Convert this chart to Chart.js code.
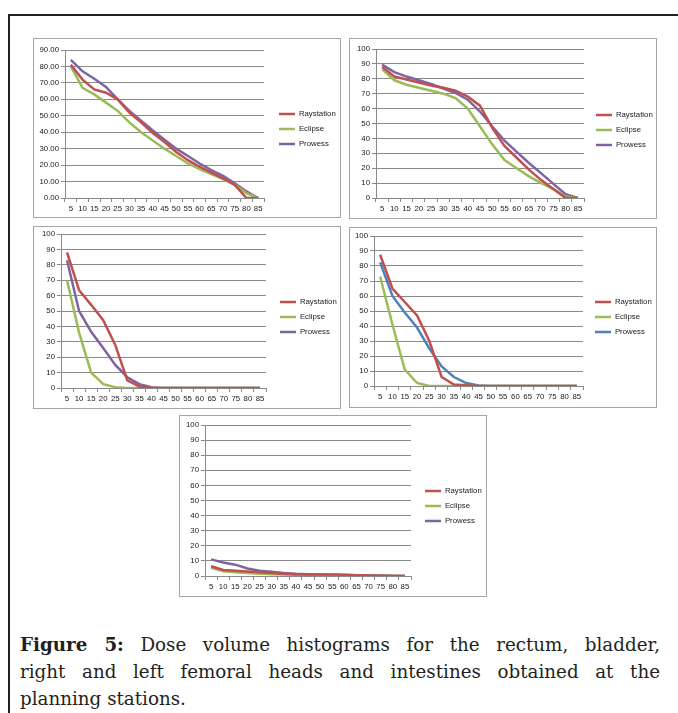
<!DOCTYPE html>
<html><head><meta charset="utf-8">
<script src="https://cdn.jsdelivr.net/npm/chart.js@4/dist/chart.umd.min.js"></script>
<style>
html,body{margin:0;padding:0;background:#fff;width:678px;height:713px;overflow:hidden;position:relative}
#frame{position:absolute;left:8px;top:14px;width:720px;height:740px;border:2px solid #231f20;box-sizing:border-box}
.panel{position:absolute;border:1px solid #a6a6a6;background:#fff;box-sizing:border-box}
.panel canvas{position:absolute;left:0;top:0}
.cap{position:absolute;left:20px;width:640px;font-family:"DejaVu Serif","Liberation Serif",serif;font-size:18.3px;color:#231f20;line-height:27px}
.j{text-align:justify;text-align-last:justify}
</style></head><body>
<div id="frame"></div>
<div id="panels"></div>
<div class="cap j" style="top:631px"><b>Figure 5:</b> Dose volume histograms for the rectum, bladder,</div>
<div class="cap j" style="top:658px">right and left femoral heads and intestines obtained at the</div>
<div class="cap" style="top:685px">planning stations.</div>
<script>
// ---------- data ----------
const doseLevels = ['5','10','15','20','25','30','35','40','45','50','55','60','65','70','75','80','85'];
const seriesNames = ['Raystation','Eclipse','Prowess'];

const rectumRaystation = [81,72,66,64,60,52,46,39.5,34,28,23,19,15.5,12,8,0,0];
const rectumEclipse    = [80,67,63,58,53,46,40,35,30,25.5,21,17.5,14.5,11.5,8,3,0];
const rectumProwess    = [84,77,72.5,67.5,60,53,47,41,35.5,30,25.5,21,17,13.5,9,4,0];

const bladderRaystation = [88,81.5,79.5,77.5,75.5,74,72,68,62,47,35,27,19,12,6,0,0];
const bladderEclipse    = [86.5,79,76,74,72,70,67,60,48,36,25.5,20,14.5,10,6,1,0];
const bladderProwess    = [89.5,84.5,81.5,79,76.5,73.5,70.5,66,58,48,38.5,31,23.5,16.5,9.5,2.5,0];

const rightFemurRaystation = [88,63.5,54,44,28,5,1,0,0,0,0,0,0,0,0,0,0];
const rightFemurEclipse    = [70,36,10,2.5,0.5,0,0,0,0,0,0,0,0,0,0,0,0];
const rightFemurProwess    = [83,50,36.5,26,15,7,2.5,0.5,0,0,0,0,0,0,0,0,0];

const leftFemurRaystation = [87.5,65,56,47,30,6,1,0.5,0,0,0,0,0,0,0,0,0];
const leftFemurEclipse    = [73,41,11,2,0,0,0,0,0,0,0,0,0,0,0,0,0];
const leftFemurProwess    = [82.5,60,49,39,25,13,6,2,0.3,0,0,0,0,0,0,0,0];

const intestineRaystation = [6.5,4,3.5,3,2.5,2,1.5,1.2,1,1,1,0.8,0.5,0.3,0.2,0,0];
const intestineEclipse    = [5.5,3.2,2.5,2,1.5,1.2,1,0.8,0.6,0.5,0.4,0.3,0.2,0.1,0,0,0];
const intestineProwess    = [11,9,7.5,5,3.5,2.8,2,1.5,1.2,1,0.8,0.6,0.5,0.4,0.3,0.1,0];

const yTicksRectum = {max:90, step:10, decimals:2};
const yTicksOther  = {max:100, step:10, decimals:0};

// ---------- styling / layout ----------
const RED='#C0504D', GREEN='#9BBB59', PURPLE='#8064A2', BLUE='#4F81BD';
const FONT = {family:'"Liberation Sans", Arial, sans-serif', size:7.8};
const TXT = '#1a1a1a', GRID = '#8a8a8a';

const panels = [
  {box:{x:33,y:38,w:308,h:180},  plot:{l:65,r:264,t:50,b:198},  leg:{x:279,y:114}, ticks:yTicksRectum,
   series:[rectumRaystation,rectumEclipse,rectumProwess], colors:[RED,GREEN,PURPLE]},
  {box:{x:349,y:38,w:308,h:181}, plot:{l:376,r:584,t:49,b:198}, leg:{x:596,y:115}, ticks:yTicksOther,
   series:[bladderRaystation,bladderEclipse,bladderProwess], colors:[RED,GREEN,PURPLE]},
  {box:{x:33,y:226,w:308,h:183}, plot:{l:61,r:266,t:234,b:388}, leg:{x:280,y:302}, ticks:yTicksOther,
   series:[rightFemurRaystation,rightFemurEclipse,rightFemurProwess], colors:[RED,GREEN,PURPLE]},
  {box:{x:349,y:227,w:308,h:181},plot:{l:374,r:583,t:236,b:386}, leg:{x:595,y:302}, ticks:yTicksOther,
   series:[leftFemurRaystation,leftFemurEclipse,leftFemurProwess], colors:[RED,GREEN,BLUE]},
  {box:{x:179,y:415,w:308,h:182},plot:{l:205,r:411,t:425,b:576}, leg:{x:425,y:491}, ticks:yTicksOther,
   series:[intestineRaystation,intestineEclipse,intestineProwess], colors:[RED,GREEN,PURPLE]}
];

const legendPlacer = {
  id:'legendPlacer',
  afterLayout(chart, args, opts){
    const lg = chart.legend;
    if(!lg || opts.x == null) return;
    const pad = lg.options.labels.padding, fs = lg.options.labels.font.size;
    const left = opts.x - pad, top = opts.y - fs/2 - pad;
    lg.left = left; lg.top = top; lg.width = 95; lg.height = 60;
    lg.right = left + 95; lg.bottom = top + 60;
  }
};

const host = document.getElementById('panels');
panels.forEach(p => {
  const div = document.createElement('div');
  div.className = 'panel';
  Object.assign(div.style, {left:p.box.x+'px', top:p.box.y+'px', width:p.box.w+'px', height:p.box.h+'px'});
  const cw = p.box.w - 2, ch = p.box.h - 2, ox = p.box.x + 1, oy = p.box.y + 1;
  const cv = document.createElement('canvas');
  cv.width = cw; cv.height = ch;
  cv.style.width = cw+'px'; cv.style.height = ch+'px';
  div.appendChild(cv); host.appendChild(div);

  new Chart(cv, {
    type:'line',
    data:{
      labels: doseLevels,
      datasets: seriesNames.map((name,i) => ({
        label:name, data:p.series[i], borderColor:p.colors[i], backgroundColor:p.colors[i],
        borderWidth:2.5, pointRadius:0, tension:0, fill:false
      }))
    },
    plugins:[legendPlacer],
    options:{
      responsive:false, animation:false, devicePixelRatio:1,
      layout:{padding:{left:0, top:p.plot.t - oy, right:cw - (p.plot.r - ox), bottom:0}},
      plugins:{
        legend:{position:'chartArea', align:'start',
          labels:{usePointStyle:true, pointStyle:'line', pointStyleWidth:16, padding:7.2, font:FONT, color:TXT}},
        tooltip:{enabled:false},
        legendPlacer:{x:p.leg.x - ox, y:p.leg.y - oy}
      },
      scales:{
        x:{offset:true,
           grid:{display:true, drawOnChartArea:false, drawTicks:true, tickLength:4, offset:true, color:GRID},
           border:{color:GRID},
           ticks:{autoSkip:false, maxRotation:0, minRotation:0, padding:2, font:FONT, color:TXT},
           afterFit:s => { s.height = ch - (p.plot.b - oy); }},
        y:{min:0, max:p.ticks.max,
           grid:{color:GRID, tickLength:4},
           border:{color:GRID},
           ticks:{stepSize:p.ticks.step, padding:2, font:FONT, color:TXT,
                  callback:v => Number(v).toFixed(p.ticks.decimals)},
           afterFit:s => { s.width = p.plot.l - ox; }}
      }
    }
  });
});
</script>
</body></html>
